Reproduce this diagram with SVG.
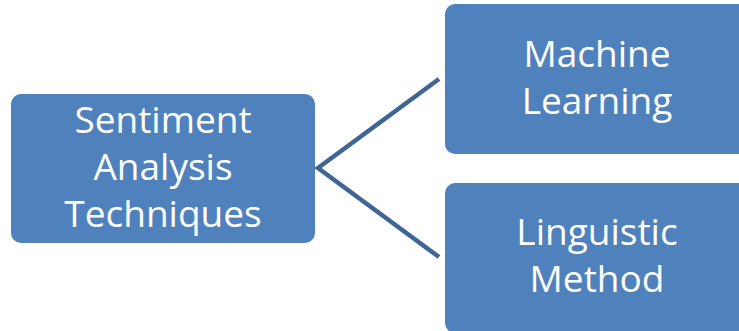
<svg xmlns="http://www.w3.org/2000/svg" width="739" height="331" viewBox="0 0 739 331">
<style>
.box{fill:#4F81BD;}
.lbl{font-family:"Open Sans","Liberation Sans",sans-serif;font-size:37px;fill:#FFFFFF;text-anchor:middle;}
.conn{stroke:#3F6597;stroke-width:4.5;fill:none;stroke-linejoin:miter;}
</style>
<rect width="739" height="331" fill="#FFFFFF"/>
<g id="connectors">
<path class="conn" d="M439,79 L318,168 L439,257"/>
</g>
<g id="node-sentiment">
<rect class="box" x="11" y="94" width="304" height="149" rx="10"/>
<text class="lbl" x="163" y="133">Sentiment</text>
<text class="lbl" x="163" y="180">Analysis</text>
<text class="lbl" x="163" y="227">Techniques</text>
</g>
<g id="node-ml">
<rect class="box" x="445" y="4" width="304" height="150" rx="10"/>
<text class="lbl" x="597" y="67">Machine</text>
<text class="lbl" x="597" y="114">Learning</text>
</g>
<g id="node-ling">
<rect class="box" x="445" y="183" width="304" height="150" rx="10"/>
<text class="lbl" x="597" y="245">Linguistic</text>
<text class="lbl" x="597" y="292">Method</text>
</g>
</svg>
